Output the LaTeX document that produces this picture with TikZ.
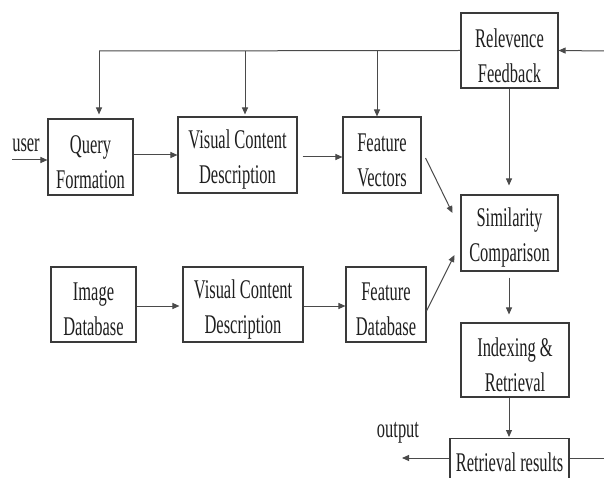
\documentclass[tikz,border=0pt]{standalone}
\usepackage{fontspec}
\setmainfont{Liberation Serif}[FakeStretch=0.61]
\usetikzlibrary{arrows.meta,calc}
\definecolor{boxgray}{HTML}{3A3A3A}
\definecolor{linegray}{HTML}{4A4A4A}
\begin{document}
\begin{tikzpicture}[x=1pt,y=-1pt,
  txt/.style={font=\fontsize{27}{35}\selectfont, text=black!88, align=center, inner sep=0pt},
  box/.style={draw=boxgray, line width=1.1pt, fill=white, inner sep=0pt,
    label={[txt, yshift=-5pt]center:{#1}}},
  box/.default={},
  conn/.style={draw=linegray, line width=1pt},
  arr/.style={conn, -{Triangle[length=7pt,width=6pt]}}]
\useasboundingbox (0,0) rectangle (604,478);
\clip (0,0) rectangle (604,478);

% processing blocks (text is placed by the box style)
\node[box={Query\\Formation}, minimum width=85, minimum height=76] (qf) at (90.5,157) {};
\node[box={Visual Content\\Description}, minimum width=119, minimum height=76] (vcd1) at (237.5,155) {};
\node[box={Feature\\Vectors}, minimum width=78, minimum height=76] (fv) at (382,155) {};
\node[box={Relevence\\Feedback}, minimum width=97, minimum height=75] (rf) at (509.5,50.5) {};
\node[box={Similarity\\Comparison}, minimum width=97, minimum height=76] (sim) at (509.5,233) {};
\node[box={Image\\Database}, minimum width=85, minimum height=75] (idb) at (93.5,304.5) {};
\node[box={Visual Content\\Description}, minimum width=120, minimum height=75] (vcd2) at (243,304.5) {};
\node[box={Feature\\Database}, minimum width=80, minimum height=75] (fdb) at (386,304.5) {};
\node[box={Indexing \&\\Retrieval}, minimum width=108, minimum height=74] (idx) at (515,360) {};
\node[box, minimum width=119, minimum height=76, anchor=north] (rr) at (509.5,438) {};
\node[txt] (rrtext) at (509.5,462) {Retrieval results};

% free labels
\node[txt] (user) at (26,145) {user};
\node[txt] (output) at (398,433) {output};

% junction points on the feedback bus
\coordinate (busL) at (99,51);
\coordinate (tapA) at (245,51);
\coordinate (tapB) at (377,51);
\coordinate (fbin) at (604,51);
\coordinate (fbout) at (604,458);
\coordinate (userin) at (12,160);
\coordinate (outend) at (402,458);

% feedback bus
\draw[conn] (rf.west) -- (busL);
\draw[arr, shorten >=4pt] (busL) -- (busL |- qf.north);
\draw[arr, shorten >=2pt] (tapA) -- (tapA |- vcd1.north);
\draw[arr] (tapB) -- (tapB |- fv.north);
\draw[arr] (fbin) -- (rf.east);
\draw[arr, shorten >=9pt] (rf.south -| 509,0) -- (sim.north -| 509,0);

% query path
\draw[arr] (userin) -- (userin -| qf.west);
\draw[arr] ($(qf.east)+(0,-2)$) -- ($(vcd1.west)+(0,0)$);
\draw[arr] ($(vcd1.east)+(5,2)$) -- ($(fv.west)+(0,2)$);
\draw[arr] ($(fv.east)+(4,3)$) -- ($(sim.west)+(-8,-20)$);

% database path
\draw[arr] ($(idb.east)+(0,1.5)$) -- ($(vcd2.west)+(-3,1.5)$);
\draw[arr] ($(vcd2.east)+(0,1.5)$) -- ($(fdb.west)+(0,1.5)$);
\draw[arr] ($(fdb.east)+(0,6.5)$) -- ($(sim.west)+(-6,22)$);

% retrieval chain
\draw[arr, shorten <=6pt, shorten >=8pt] (sim.south -| 509,0) -- (idx.north -| 509,0);
\draw[arr, shorten >=1pt] (idx.south -| 509,0) -- (rr.north -| 509,0);
\draw[arr] (rr.west |- outend) -- (outend);
\draw[conn] (rr.east |- fbout) -- (fbout);
\end{tikzpicture}
\end{document}
